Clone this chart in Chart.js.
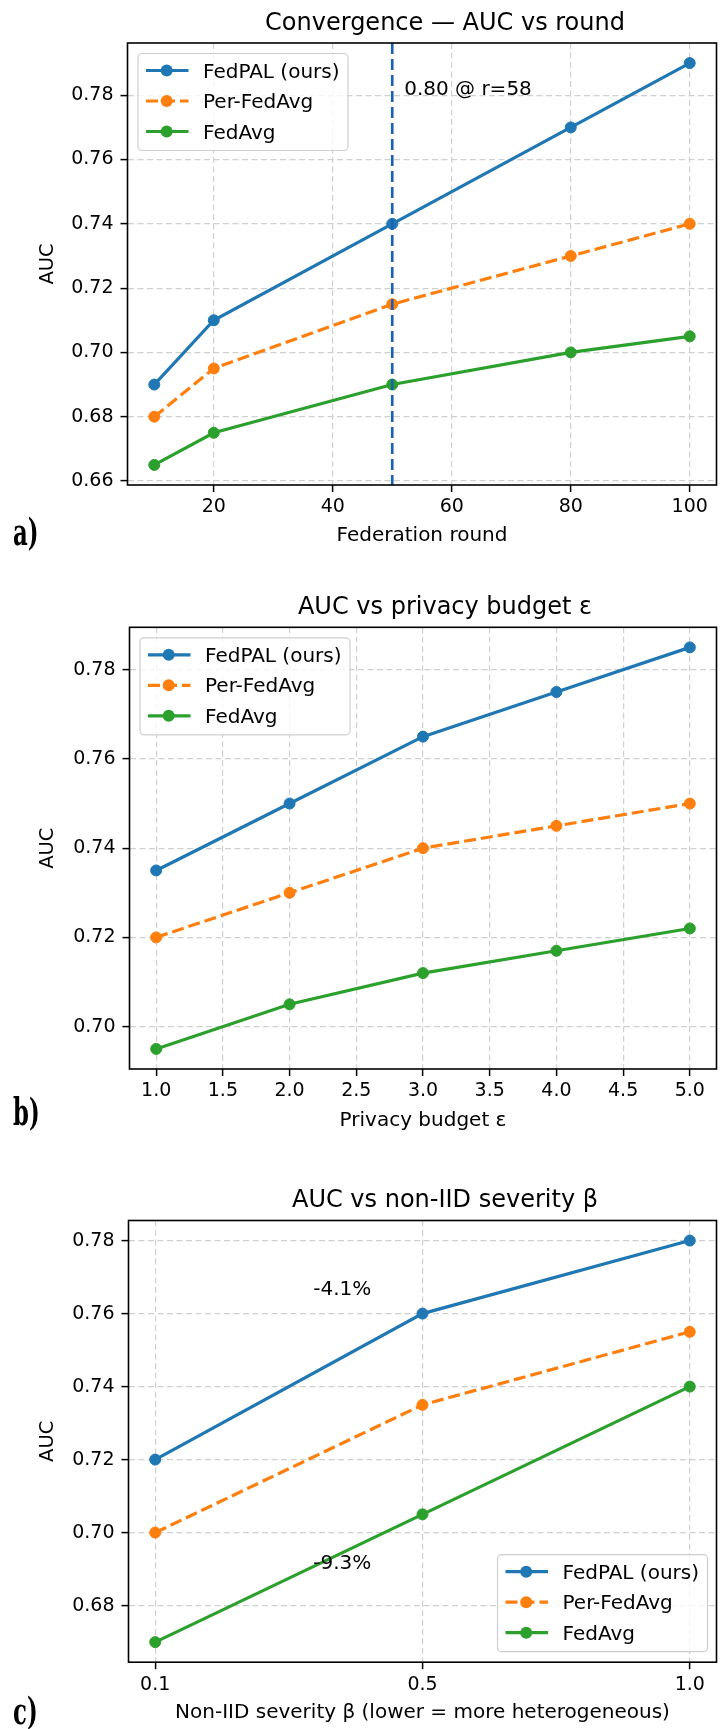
<!DOCTYPE html>
<html><head><meta charset="utf-8">
<script src="https://cdn.jsdelivr.net/npm/chart.js@4.4.1/dist/chart.umd.min.js"></script>
<style>
html,body{margin:0;padding:0;background:#fff;width:723px;height:1729px;overflow:hidden}
.wrap{position:absolute;left:0;width:723px}
canvas{display:block}
</style></head><body>
<div class="wrap" style="top:0;height:560px"><canvas id="ca" width="723" height="560"></canvas></div>
<div class="wrap" style="top:560px;height:580px"><canvas id="cb" width="723" height="580"></canvas></div>
<div class="wrap" style="top:1140px;height:589px"><canvas id="cc" width="723" height="589"></canvas></div>
<script>
// ---------- data ----------
const seriesNames = ['FedPAL (ours)', 'Per-FedAvg', 'FedAvg'];

// (a) convergence
const rounds = [10, 20, 50, 80, 100];
const roundFedPAL = [0.69, 0.71, 0.74, 0.77, 0.79];
const roundPerFedAvg = [0.68, 0.695, 0.715, 0.73, 0.74];
const roundFedAvg = [0.665, 0.675, 0.69, 0.70, 0.705];
const markerRound = 50;
const noteA = [{x: 52, y: 0.78, text: '0.80 @ r=58'}];

// (b) privacy budget
const epsilons = [1.0, 2.0, 3.0, 4.0, 5.0];
const epsFedPAL = [0.735, 0.75, 0.765, 0.775, 0.785];
const epsPerFedAvg = [0.72, 0.73, 0.74, 0.745, 0.75];
const epsFedAvg = [0.695, 0.705, 0.712, 0.717, 0.722];

// (c) non-IID severity
const betaLabels = ['0.1', '0.5', '1.0'];
const betaFedPAL = [0.72, 0.76, 0.78];
const betaPerFedAvg = [0.70, 0.735, 0.755];
const betaFedAvg = [0.67, 0.705, 0.74];
const noteC = [{x: 0.7, y: 0.765, text: '-4.1%'}, {x: 0.7, y: 0.69, text: '-9.3%'}];

// ---------- styling ----------
const FONT = '"DejaVu Sans", "Liberation Sans", sans-serif';
const COLORS = ['#1f77b4', '#ff7f0e', '#2ca02c'];
const DASHES = [[], [12, 5], []];

function pad(lo, hi) { const r = hi - lo; return [lo - 0.05 * r, hi + 0.05 * r]; }

function makeDatasets(xs, lists) {
  return lists.map((vals, i) => ({
    label: seriesNames[i],
    data: vals.map((v, j) => ({x: xs[j], y: v})),
    borderColor: COLORS[i],
    backgroundColor: COLORS[i],
    pointBackgroundColor: COLORS[i],
    pointBorderColor: COLORS[i],
    borderWidth: 3.2,
    borderDash: DASHES[i],
    pointRadius: 5.5,
    pointHoverRadius: 5.5,
    pointBorderWidth: 1,
    tension: 0,
    fill: false
  }));
}

function drawLegend(chart, corner) {
  const ctx = chart.ctx, a = chart.chartArea;
  const w = 210, h = 97;
  const left = corner === 'ul' ? a.left + 10.5 : a.right - 9 - w;
  const top = corner === 'ul' ? a.top + 10.5 : a.bottom - 10.5 - h;
  ctx.save();
  ctx.beginPath();
  ctx.roundRect(left, top, w, h, 4);
  ctx.fillStyle = 'rgba(255,255,255,0.8)';
  ctx.fill();
  ctx.strokeStyle = '#cfcfcf';
  ctx.lineWidth = 1.2;
  ctx.stroke();
  chart.data.datasets.forEach((ds, i) => {
    const y = top + 17 + i * 30.5;
    ctx.beginPath();
    ctx.setLineDash(ds.borderDash || []);
    ctx.strokeStyle = ds.borderColor;
    ctx.lineWidth = ds.borderWidth;
    ctx.moveTo(left + 8, y);
    ctx.lineTo(left + 50.5, y);
    ctx.stroke();
    ctx.setLineDash([]);
    ctx.beginPath();
    ctx.arc(left + 28.7, y, 6, 0, Math.PI * 2);
    ctx.fillStyle = ds.borderColor;
    ctx.fill();
    ctx.fillStyle = '#000';
    ctx.font = '20px ' + FONT;
    ctx.textAlign = 'left';
    ctx.textBaseline = 'alphabetic';
    ctx.fillText(ds.label, left + 65, y + 7);
  });
  ctx.restore();
}

function decoPlugin(cfg) {
  return {
    id: 'deco_' + cfg.panel,
    afterDatasetsDraw(chart) {
      const ctx = chart.ctx, a = chart.chartArea;
      const xs = chart.scales.x, ys = chart.scales.y;
      ctx.save();
      // vertical marker line
      if (cfg.vline !== undefined) {
        const px = xs.getPixelForValue(cfg.vline);
        ctx.beginPath();
        ctx.setLineDash([11, 5]);
        ctx.strokeStyle = '#1a5fb4';
        ctx.lineWidth = 2.6;
        ctx.moveTo(px, a.top);
        ctx.lineTo(px, a.bottom);
        ctx.stroke();
        ctx.setLineDash([]);
      }
      // annotations
      (cfg.notes || []).forEach(n => {
        ctx.fillStyle = '#000';
        ctx.font = '20px ' + FONT;
        ctx.textAlign = cfg.noteAlign;
        ctx.textBaseline = 'alphabetic';
        ctx.fillText(n.text, xs.getPixelForValue(n.x), ys.getPixelForValue(n.y));
      });
      // frame
      ctx.strokeStyle = '#000';
      ctx.lineWidth = 1.6;
      ctx.strokeRect(a.left, a.top, a.right - a.left, a.bottom - a.top);
      ctx.restore();
      drawLegend(chart, cfg.legend);
      // title
      ctx.save();
      ctx.fillStyle = '#000';
      ctx.font = '24px ' + FONT;
      ctx.textAlign = 'center';
      ctx.textBaseline = 'alphabetic';
      ctx.fillText(cfg.title, 445, a.top - 13.5);
      // panel label
      ctx.font = 'bold 38px "DejaVu Serif", serif';
      ctx.textAlign = 'left';
      ctx.translate(13, cfg.panelY);
      ctx.scale(0.6, 1);
      ctx.fillText(cfg.panel + ')', 0, 0);
      ctx.restore();
    }
  };
}

function makeChart(id, H, g, datasets, xCfg, yRange, xTitle, xTitlePad, deco) {
  return new Chart(document.getElementById(id), {
    type: 'line',
    data: {datasets},
    options: {
      responsive: false,
      animation: false,
      events: [],
      layout: {padding: {left: 0, right: 723 - g.R, top: g.T, bottom: 0}},
      plugins: {legend: {display: false}, tooltip: {enabled: false}, title: {display: false}},
      scales: {
        x: Object.assign({
          type: 'linear',
          position: 'bottom',
          afterFit: s => { s.height = H - g.B; },
          grid: {color: '#d0d0d0', lineWidth: 1.2, drawTicks: true, tickLength: 7, tickColor: '#000', tickWidth: 1.5, tickBorderDash: []},
          border: {display: false, dash: [6, 3.5]},
          title: {display: true, text: xTitle, color: '#000', font: {family: FONT, size: 20}, padding: {top: 0, bottom: xTitlePad}}
        }, xCfg),
        y: {
          type: 'linear',
          position: 'left',
          min: yRange[0], max: yRange[1],
          afterFit: s => { s.width = g.L; },
          grid: {color: '#d0d0d0', lineWidth: 1.2, drawTicks: true, tickLength: 7, tickColor: '#000', tickWidth: 1.5, tickBorderDash: []},
          border: {display: false, dash: [6, 3.5]},
          ticks: {stepSize: 0.02, includeBounds: false, color: '#000', padding: 7, font: {family: FONT, size: 19},
                  callback: v => Number(v).toFixed(2)},
          title: {display: true, text: 'AUC', color: '#000', font: {family: FONT, size: 19.5}, padding: {top: 36.7, bottom: 0}}
        }
      }
    },
    plugins: [decoPlugin(deco)]
  });
}

const xTickBase = {color: '#000', padding: 4, font: {family: FONT, size: 19}, maxRotation: 0, autoSkip: false, includeBounds: false};

// (a)
const ra = pad(Math.min(...rounds), Math.max(...rounds));
makeChart('ca', 560, {L: 127.5, R: 722, T: 43, B: 485},
  makeDatasets(rounds, [roundFedPAL, roundPerFedAvg, roundFedAvg]),
  {min: ra[0], max: ra[1], ticks: Object.assign({stepSize: 20, callback: v => String(v)}, xTickBase)},
  pad(Math.min(...roundFedAvg), Math.max(...roundFedPAL)),
  'Federation round', 12.5,
  {panel: 'a', panelY: 545, title: 'Convergence \u2014 AUC vs round', legend: 'ul', vline: markerRound, notes: noteA, noteAlign: 'left'});

// (b)
const rb = pad(Math.min(...epsilons), Math.max(...epsilons));
makeChart('cb', 580, {L: 129.5, R: 722, T: 67.3, B: 509},
  makeDatasets(epsilons, [epsFedPAL, epsPerFedAvg, epsFedAvg]),
  {min: rb[0], max: rb[1], ticks: Object.assign({stepSize: 0.5, callback: v => Number(v).toFixed(1)}, xTickBase)},
  pad(Math.min(...epsFedAvg), Math.max(...epsFedPAL)),
  'Privacy budget \u03b5', 7.7,
  {panel: 'b', panelY: 565, title: 'AUC vs privacy budget \u03b5', legend: 'ul', notes: [], noteAlign: 'left'});

// (c)
const betaIdx = betaLabels.map((_, i) => i);
const rc = pad(0, betaLabels.length - 1);
makeChart('cc', 589, {L: 128.5, R: 721.5, T: 80.5, B: 522.2},
  makeDatasets(betaIdx, [betaFedPAL, betaPerFedAvg, betaFedAvg]),
  {min: rc[0], max: rc[1], ticks: Object.assign({stepSize: 1, callback: v => betaLabels[v] !== undefined ? betaLabels[v] : ''}, xTickBase)},
  pad(Math.min(...betaFedAvg), Math.max(...betaFedPAL)),
  'Non-IID severity \u03b2 (lower = more heterogeneous)', 4.3,
  {panel: 'c', panelY: 584, title: 'AUC vs non-IID severity \u03b2', legend: 'lr', notes: noteC, noteAlign: 'center'});
</script>
</body></html>
